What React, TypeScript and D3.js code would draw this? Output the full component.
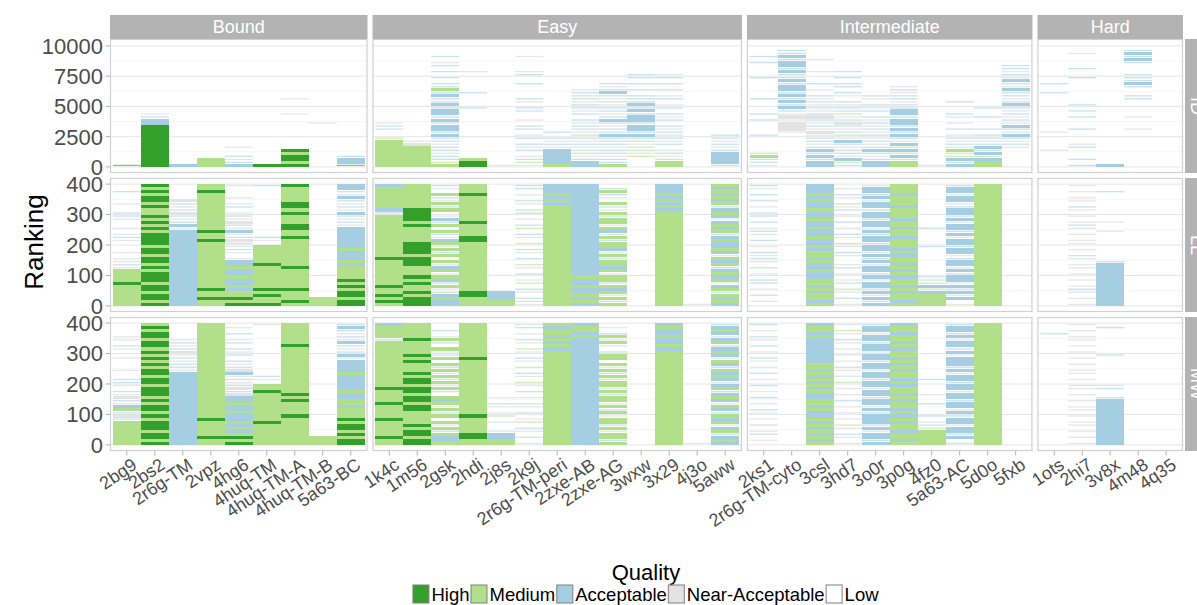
import React from "react";
import * as d3 from "d3";

// ---------------- data ----------------
const facetGroups = ["Bound", "Easy", "Intermediate", "Hard"];
const boundTargets = ["2bg9", "2bs2", "2r6g-TM", "2vpz", "4hg6", "4huq-TM", "4huq-TM-A", "4huq-TM-B", "5a63-BC"];
const easyTargets = ["1k4c", "1m56", "2gsk", "2hdi", "2j8s", "2k9j", "2r6g-TM-peri", "2zxe-AB", "2zxe-AG", "3wxw", "3x29", "4j3o", "5aww"];
const intermediateTargets = ["2ks1", "2r6g-TM-cyto", "3csl", "3hd7", "3o0r", "3p0g", "4fz0", "5a63-AC", "5d0o", "5fxb"];
const hardTargets = ["1ots", "2hi7", "3v8x", "4m48", "4q35"];
const scoreRows = ["ID", "LL", "MW"];
const qualityLevels = ["High", "Medium", "Acceptable", "Near-Acceptable", "Low"];
const qualityCodes = ["H", "M", "A", "N", "L"];
const rowTickValues = [[0, 2500, 5000, 7500, 10000], [0, 100, 200, 300, 400], [0, 100, 200, 300, 400]];
const rowMinorTicks = [[1250, 3750, 6250, 8750], [50, 150, 250, 350], [50, 150, 250, 350]];
const rowRankMax = [10068, 400, 400];
// ranks covered by one code letter, per score row (upper case = every model in block of that quality,
// lower case = that quality sparse among Low models in the block)
const ranksPerCode = [250, 10, 10];

// Row "ID" (rank 0 -> top)
const idBound = [
  "h", "HHHHHHHHHH HHHHAAan", "A", "MMM", "AanaLLn", "H",
  "HMHHMHLLLL LLLLLLLnLL LLn", "LLLLLLLLLL LLLLn", "hAAa",
];
const idEasy = [
  "MMMMMMMMMm LLaan", "MMMMMMMNn", "Mmaanaanaa AaAAaAaAAa AaaAaMaaLa LaLanLa",
  "HHMLLLLLLL LLLLLLLLLa LLLLaLLLLL Ln", "n", "nmanLanaLa nLaaLnLLaa LnaLLLLaLL anLLLLn",
  "MAAAAAnana La", "AAanmanana mnaanaLana anamanL", "Maanaanaaa AaanaAanaa nanaAana",
  "LLLmnmmnma AaAAaAAaAa AaaaLaLaLa a", "MMmnanLana nanaLanaLa nLanLaLaLa n", "", "aAAAAanana a",
];
const idIntermediate = [
  "naaMmLLLLL aLLLLaLaLL LLaLLLLLLa LLLLaLa", "LLLLLLLLLL LnNNNnNnaA aAaAaAAaAa aAaAAaAaa",
  "AAaAaAanaa nNnanaNana nanaLnLaLL LnLLLn", "amAnmanaAn manaNanmaa naLnaLaaLa La",
  "AAanaAanan anananaLan aLnaL", "MMmAmAmAna AaAaAAaAAa anaanan", "n",
  "AaAmmMnana nLaLnLnaLL La", "MMAmAaAana aLaLLLaLLa", "LLLLLLnana AnaAnanana AanaaAnaAn anaa",
];
const idHard = [
  "LLLLLnLLLL LnLLLLLLLL LLLLaLLa", "aLaLLLanLL LLaLLLaLaL aLLLLLLLLa LLaLLLLn", "A",
  "LLLLLLLLLL LLnLLLnLLL LLaaLLaAaa aLLLaAaAa", "",
];

// Row "LL"
const llBound = [
  "MMMMMMMHMM MMnannLnLL LnanLnLLna aLLnLLLa", "HMHHMHHMHH HMHMHHMHHM HHHHMHMHMH MMHMHHMHMH",
  "AAAAAAAAAA AAAAAAAAAA AAAAAnAana NanaN", "MMHMMHMMMM MMMMMMMMMM MHMMHMMMMM MMMMMMMHMM",
  "HMHMMAMAAM AAMAAnLnan aNanAnaNna nLanLnLLLn", "HMMHMHMMMM MMMHMMMMMM LnaLLLLLLL LLLLLLLLLa",
  "MHMMMHMMMM MMHMMMMMMM MMHMMHHMMM HMHHMMMMMH", "MMM",
  "HHMHHMHMHM MMMAMAAAMA AAAAAAnana AnanaAnaAA",
];
const llEasy = [
  "MHMHMMHMMM MMMMMHMMMM MMMMMMMMMM aAMMMMMMMA", "HHHMHMMHMH MMMHHHMHHH HMMMMMHMHH HHMMMMMMMM",
  "AAMAmnMaAM nMAnMLMaMn MAnaMLMaAn LMaMnaMLna", "MMMHHMMMMM MMMMMMMMMM MHHMMMMHMM MMMMMMHMMM",
  "MMAAA", "nmaLnaLmnL aLnmLaLnaL mLnaLmaLnL amLnaLnLam",
  "MMMMMMMMMM MMMMMMMMMM MMMMMMMMMM MMMAMAMAAA", "AMAMAAMAAM AAAAAAAAAA AAAAAAAAAA AAAAAAAAAA",
  "MaMnMAMaMM nMAMMaMnAM MaMnAMnMMa MnaMLnaMaL", "",
  "MMMMMMMMMM MMMMMMMMMM MMMMMMMMMM MAMAMAMAAA", "n",
  "AMAMaMAnMA MAaMAMnAMA AMAaMAMAnA MAaMAMAMAM",
];
const llIntermediate = [
  "LnLaLnLaaL nLaLnanaLn LaLnanLaLa aLnLaLaLna", "",
  "MAMMAMAMMA AMAAMAMMAM AAMAAMAAMA AMAAMAMAAA", "nLaLnmLanL nLanLLnaLn mLnaLnLaLn LanmLnaLnL",
  "AaAnAaAAnA aAAnAaAnAA aAAaAnAAaA AaAAnAaAAn", "MAMMAMAMMA MAMAMMAMAM MMAMMAMMAM MMAMMMAMMM",
  "MMMMAmAmaa LLLLLLLLLa LLLLLaLLLL", "nLAnAaAnAA aAnAAanAAa AAnAaAAnAa AAanAAnAAa",
  "MMMMMMMMMM MMMMMMMMMM MMMMMMMMMM MMMMMMMMMM", "",
];
const llHard = [
  "", "nLnLnanLnL nLnnLnaLnL nnLnLnanLn LnaLnnLnLn",
  "AAAAAAAAAA AAAAaLLLLL LLLLnLLnLL LLLLLLLa", "", "",
];

// Row "MW"
const mwBound = [
  "MMMMMMMMaN aMAnaNnaLn aaLLnLLLnL LnaLnn", "HMHHMHHHMH MHHMHMHHHM HHMHHMHMHM HMHHMHHMHM",
  "AAAAAAAAAA AAAAAAAAAA AAAAnaanan Nanan", "MMHMMMMMHM MMMMMMMMMM MMMMMMMMMM MMMMMMMMMM",
  "HMHMAMAMAA MAAMAANaNa nanANanaLa naLanLaLnL", "MMMMMMMHMM MMMMMMMHMM LnaLLLLLLL LLLLLLLLLn",
  "MMMMMMMMMH MMMMHMHMMM MMMMMMMMMM MMHMMMMMMM", "MMM",
  "HHMHMHHMHM MMAMMAAMAA AAAMAAAAnA anaAnanaAa",
];
const mwEasy = [
  "MMHMMMMMHM MMMHMMMMHM MMMMMMMMMM MMMMaMMMMA", "HHMHHMHMMM MHHMHHMHHM HHMHMMMHMH MMMMHMMMMM",
  "MAAMaMnMLM aMnMAMLaMn MaMnMaMLMa nMLaMnLaLL", "MMHHMMMMMH MMMMMMMMMM MMMMMMMMHM MMMMMMMMMM",
  "MMAAnLLnLm nLnaLnLL", "nLmLnaLmnL aLnmLnLaLn mLnaLmLnaL nmLnaLnLan",
  "MMMMMMMMMM MMMMMMMMMM MMMMMMMMMM MAMAMAMMAM", "AAAAAAAAAA AAAAAAAAAA AAAAAAAAAA AAAAAMAMMA",
  "MaMMnMaMMn MaMnMMaMnM MnMaMnMLMM aLnMnMaLnL", "",
  "MMMMMMMMMM MMMMMMMMMM MMMMMMMMMM MAMAAMAAMA", "n",
  "AMAaMAnMAM aAMnAMAaMA nAMAMaAMnA MAaMAnAMAa",
];
const mwIntermediate = [
  "LnLanLaLnL naLnLaLnLa LnLaLnLnaL nLaLnaLnLa", "",
  "MAMAMAMAMA AMAMMAAMAM AMAMAMMAAA AAAAAMAMMA", "nLnaLnmLnL nLnLaLnLnL mLnLnaLnLn LnLnaLnmLn",
  "AaAAnAaAAA aAnAAaAAnA AaAAnAAaAA nAAaAAnAAa", "MAMMAMMAMA MAMMAMAMMA MAMMAMAMAM MAMAMMAMMA",
  "MMMMMmanLa LLLaLLnLLL La", "mLAaAAnAAa AnAAaAAnAA aAAnAaAAAn AaAAnAaAAa",
  "MMMMMMMMMM MMMMMMMMMM MMMMMMMMMM MMMMMMMMMM", "",
];
const mwHard = [
  "LLLLLLLLLL LLLLLLLLLL LLLLLLLLLL LLLLLLa", "nLnLnLnnLn LnnLnLnLnn LnLnnLnLnL nLnLnnLnLn",
  "AAAAAAAAAA AAAAAaLLan LLLLLLLLLa LLLLLLLLa", "", "",
];

// ---------------- styles ----------------
const qualityColors = ["#33a02c", "#b2df8a", "#a6cee3", "#e3e3e3", "#ffffff"];
const FONT = "'Liberation Sans', Arial, Helvetica, sans-serif";

function measureText(txt: string, font: string): number {
  const ctx = document.createElement("canvas").getContext("2d");
  if (!ctx) return txt.length * 9;
  ctx.font = font;
  return ctx.measureText(txt).width;
}

export default function App() {
  const W = 1197;
  const H = 605;
  const panelLeft = 110;
  const panelRight = 1183;
  const gap = 5;
  const rowTops = [39, 178, 317];
  const rowH = 134;
  const stripTop = 15;
  const stripH = 24;

  const groupTargets = [boundTargets, easyTargets, intermediateTargets, hardTargets];
  const rowData = [
    [idBound, idEasy, idIntermediate, idHard],
    [llBound, llEasy, llIntermediate, llHard],
    [mwBound, mwEasy, mwIntermediate, mwHard],
  ];

  const totalUnits = d3.sum(groupTargets, (t) => t.length + 0.2);
  const unit = (panelRight - panelLeft - gap * (groupTargets.length - 1)) / totalUnits;
  let cursor = panelLeft;
  const xScales = groupTargets.map((t) => {
    const w = (t.length + 0.2) * unit;
    const s = d3.scaleBand<string>().domain(t).range([cursor, cursor + w]).paddingInner(0).paddingOuter(0.1);
    cursor += w + gap;
    return s;
  });

  const yScales = scoreRows.map((_, r) => {
    const m = rowRankMax[r];
    return d3.scaleLinear().domain([-0.05 * m, 1.05 * m]).range([rowTops[r] + rowH, rowTops[r]]);
  });

  const tiles: JSX.Element[] = [];
  rowData.forEach((groups, r) => {
    const y = yScales[r];
    const step = ranksPerCode[r];
    groups.forEach((arr, g) => {
      const xs = xScales[g];
      arr.forEach((str, j) => {
        const codes = str.replace(/\s+/g, "").split("");
        const target = groupTargets[g][j];
        const x0 = xs(target) as number;
        codes.forEach((c, i) => {
          const up = c.toUpperCase();
          const idx = qualityCodes.indexOf(up);
          if (idx < 0 || up === "L") return;
          const base = qualityColors[idx];
          const yTop = y((i + 1) * step);
          const yBot = y(i * step);
          if (c === up) {
            tiles.push(
              <rect key={`t${r}-${g}-${j}-${i}`} x={x0} y={yTop} width={xs.bandwidth()} height={yBot - yTop}
                fill={base} shapeRendering="crispEdges" />
            );
          } else {
            // sparse block: a thin line of that quality
            const mid = (yTop + yBot) / 2;
            const hh = 1.3;
            tiles.push(
              <rect key={`t${r}-${g}-${j}-${i}`} x={x0} y={mid - hh / 2} width={xs.bandwidth()} height={hh}
                fill={d3.interpolateRgb("#ffffff", base)(up === "N" ? 0.85 : 0.6)} />
            );
          }
        });
      });
    });
  });

  // legend layout
  const legendFont = `18.5px ${FONT}`;
  const keyW = 17;
  const keyH = 19;
  const items = qualityLevels.map((q) => ({ q, w: measureText(q, legendFont) }));
  const legendTotal = d3.sum(items, (d) => keyW + 2 + d.w + 1);
  const legendCenter = 646;
  let lx = legendCenter - legendTotal / 2;
  const legendItems = items.map((d, i) => {
    const x = lx;
    lx += keyW + 2 + d.w + 1;
    return { ...d, x, color: qualityColors[i] };
  });

  return (
    <svg
      width={W}
      height={H}
      style={{ position: "absolute", left: 0, top: 0, background: "#ffffff" }}
      fontFamily={FONT}
    >
      <rect x={0} y={0} width={W} height={H} fill="#ffffff" />
      {/* panels backgrounds & grid */}
      {scoreRows.map((_, r) =>
        xScales.map((xs, g) => {
          const [a, b] = xs.range();
          const y = yScales[r];
          return (
            <g key={`grid${r}-${g}`}>
              <rect x={a} y={rowTops[r]} width={b - a} height={rowH} fill="#ffffff" />
              {rowMinorTicks[r].map((t) => (
                <line key={`mi${t}`} x1={a} x2={b} y1={y(t)} y2={y(t)} stroke="#f3f3f3" strokeWidth={0.8} />
              ))}
              {rowTickValues[r].map((t) => (
                <line key={`ma${t}`} x1={a} x2={b} y1={y(t)} y2={y(t)} stroke="#e6e6e6" strokeWidth={1} />
              ))}
            </g>
          );
        })
      )}
      {tiles}
      {/* panel borders */}
      {scoreRows.map((_, r) =>
        xScales.map((xs, g) => {
          const [a, b] = xs.range();
          return (
            <rect key={`b${r}-${g}`} x={a + 0.5} y={rowTops[r] + 0.5} width={b - a - 1} height={rowH - 1}
              fill="none" stroke="#d0d0d0" strokeWidth={1.2} />
          );
        })
      )}
      {/* top strips */}
      {xScales.map((xs, g) => {
        const [a, b] = xs.range();
        return (
          <g key={`s${g}`}>
            <rect x={a} y={stripTop} width={b - a} height={stripH} fill="#b3b3b3" />
            <text x={(a + b) / 2} y={stripTop + stripH / 2} dy="0.36em" textAnchor="middle" fill="#ffffff" fontSize={18}>
              {facetGroups[g]}
            </text>
          </g>
        );
      })}
      {/* right strips (cut by the page edge, as in the reference) */}
      {scoreRows.map((name, r) => {
        const sx = panelRight + 2;
        const cy = rowTops[r] + rowH / 2;
        return (
          <g key={`rs${r}`}>
            <rect x={sx} y={rowTops[r]} width={24} height={rowH} fill="#b3b3b3" />
            <text transform={`translate(${sx + 12},${cy}) rotate(90)`} dy="0.36em" textAnchor="middle" fill="#ffffff" fontSize={18}>
              {name}
            </text>
          </g>
        );
      })}
      {/* y axes */}
      {scoreRows.map((_, r) => (
        <g key={`ya${r}`}>
          {rowTickValues[r].map((t) => (
            <g key={t}>
              <line x1={panelLeft - 4.5} x2={panelLeft} y1={yScales[r](t)} y2={yScales[r](t)} stroke="#b3b3b3" strokeWidth={1} />
              <text x={panelLeft - 7} y={yScales[r](t)} dy="0.36em" textAnchor="end" fill="#4d4d4d" fontSize={22}>
                {t}
              </text>
            </g>
          ))}
        </g>
      ))}
      {/* x axes */}
      {xScales.map((xs, g) => (
        <g key={`xa${g}`}>
          {groupTargets[g].map((t) => {
            const cx = (xs(t) as number) + xs.bandwidth() / 2;
            const yb = rowTops[2] + rowH;
            return (
              <g key={t}>
                <line x1={cx} x2={cx} y1={yb} y2={yb + 4.5} stroke="#b3b3b3" strokeWidth={1} />
                <text transform={`translate(${cx + 4},${yb + 6}) rotate(-34)`} dy="0.72em" textAnchor="end" fill="#4d4d4d" fontSize={18}>
                  {t}
                </text>
              </g>
            );
          })}
        </g>
      ))}
      {/* axis title */}
      <text transform={`translate(34,${(rowTops[0] + rowTops[2] + rowH) / 2 - 3}) rotate(-90)`} textAnchor="middle" dy="0.36em" fill="#000000" fontSize={26}>
        Ranking
      </text>
      {/* legend */}
      <text x={legendCenter} y={580} textAnchor="middle" fill="#000000" fontSize={22}>
        Quality
      </text>
      {legendItems.map((d) => (
        <g key={d.q}>
          <rect x={d.x + 0.5} y={585} width={keyW - 1} height={keyH - 1} fill={d.color} stroke="#7f7f7f" strokeWidth={1} />
          <text x={d.x + keyW + 2} y={594.5} dy="0.36em" fill="#000000" fontSize={18.5}>
            {d.q}
          </text>
        </g>
      ))}
    </svg>
  );
}
